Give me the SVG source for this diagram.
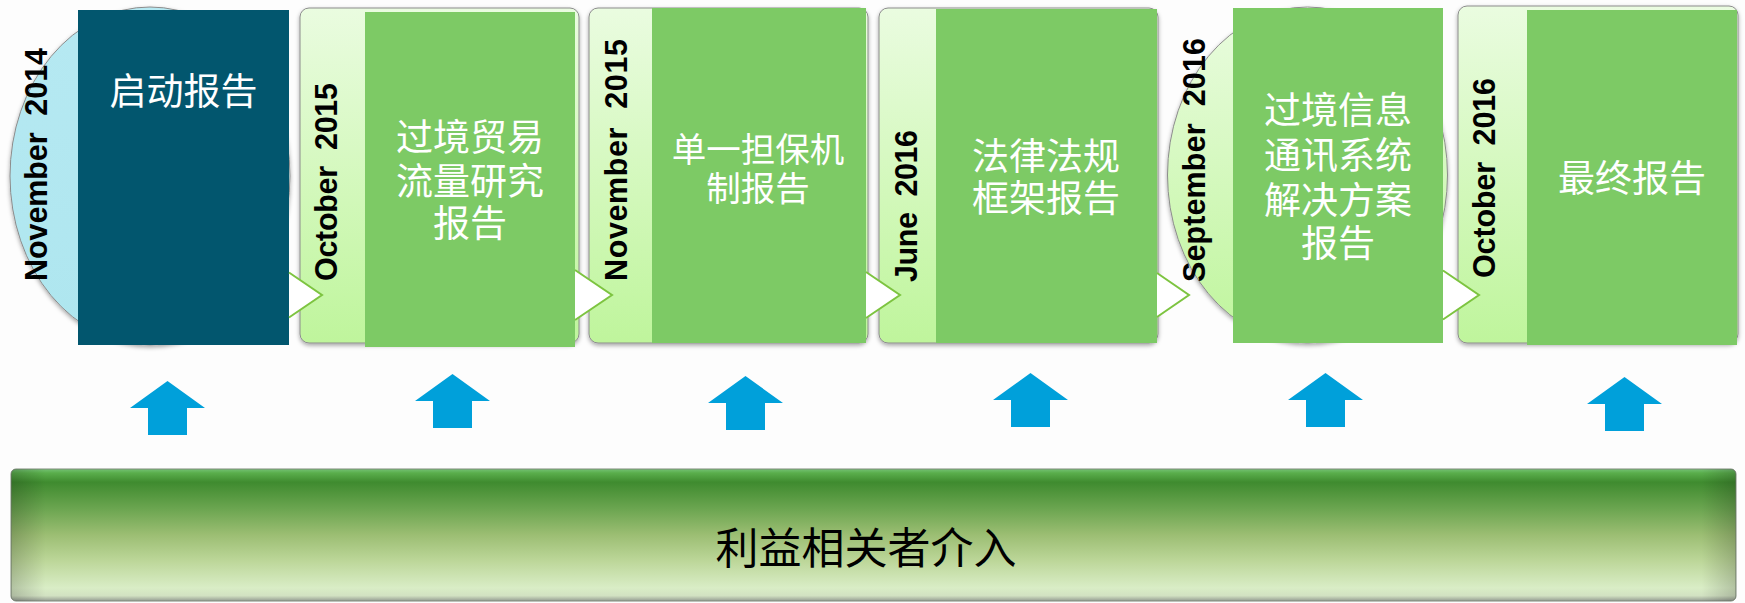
<svg xmlns="http://www.w3.org/2000/svg" width="1745" height="603" viewBox="0 0 1745 603">
  <defs>
    <linearGradient id="cardGrad" x1="0" y1="0" x2="0" y2="1">
      <stop offset="0" stop-color="#EAFCE0"/>
      <stop offset="1" stop-color="#BFF59C"/>
    </linearGradient>
    <linearGradient id="blueGrad" x1="0" y1="0" x2="0" y2="1">
      <stop offset="0" stop-color="#B6E9F2"/>
      <stop offset="1" stop-color="#AEE6EF"/>
    </linearGradient>
    <linearGradient id="barGrad" x1="0" y1="0" x2="0" y2="1">
      <stop offset="0" stop-color="#74C274"/>
      <stop offset="0.03" stop-color="#5AAE4C"/>
      <stop offset="0.1" stop-color="#3F8B2F"/>
      <stop offset="0.3" stop-color="#6BA550"/>
      <stop offset="0.5" stop-color="#9CBE73"/>
      <stop offset="0.7" stop-color="#BDD79A"/>
      <stop offset="0.9" stop-color="#D9EDC6"/>
      <stop offset="0.96" stop-color="#D2E2C2"/>
      <stop offset="1" stop-color="#959C92"/>
    </linearGradient>
    <linearGradient id="barSide" x1="0" y1="0" x2="1" y2="0">
      <stop offset="0" stop-color="#000" stop-opacity="0.18"/>
      <stop offset="0.02" stop-color="#000" stop-opacity="0"/>
      <stop offset="0.98" stop-color="#000" stop-opacity="0"/>
      <stop offset="1" stop-color="#000" stop-opacity="0.18"/>
    </linearGradient>
    <filter id="shadow" x="-10%" y="-10%" width="120%" height="120%">
      <feDropShadow dx="0" dy="2" stdDeviation="2" flood-color="#000" flood-opacity="0.35"/>
    </filter>
  </defs>
  <style>
    .bg { fill: url(#cardGrad); stroke: #8C8C8C; stroke-width: 1; filter: url(#shadow); }
    .inner { fill: #7DCA65; }
    .date { font-family: "Liberation Sans", Arial, sans-serif; font-weight: bold; font-size: 30.5px; fill: #000; }
    .lbl { font-family: "Noto Sans CJK SC", "Noto Sans", sans-serif; font-size: 37px; fill: #FFFFFF; text-anchor: middle; }
    .chev { fill: #FFFFFF; stroke: #7DC440; stroke-width: 2; stroke-linejoin: miter; }
    .up { fill: #00A0DA; }
  </style>
  <rect x="0" y="0" width="1745" height="603" fill="#FDFDFD"/>

  <g id="node1">
    <ellipse cx="150" cy="176" rx="140" ry="169" fill="url(#blueGrad)" stroke="#8C8C8C" stroke-width="1" filter="url(#shadow)"/>
    <rect x="78" y="10" width="211" height="335" fill="#02566E"/>
    <text class="lbl" x="183.5" y="105">启动报告</text>
    <text class="date" xml:space="preserve" transform="translate(47,281) rotate(-90)" textLength="233">November  2014</text>
  </g>

  <g id="node2">
    <rect class="bg" x="300" y="8" width="279" height="335" rx="9"/>
    <rect class="inner" x="365" y="12" width="210" height="335"/>
    <text class="lbl" x="470" y="151">过境贸易<tspan x="470" dy="44">流量研究</tspan><tspan x="470" dy="42">报告</tspan></text>
    <text class="date" xml:space="preserve" transform="translate(337,281) rotate(-90)" textLength="198">October  2015</text>
  </g>

  <g id="node3">
    <rect class="bg" x="589" y="8" width="279" height="335" rx="9"/>
    <rect class="inner" x="652" y="8" width="214" height="335"/>
    <text class="lbl" x="758" y="162" style="font-size:34.5px">单一担保机<tspan x="758" dy="39">制报告</tspan></text>
    <text class="date" xml:space="preserve" transform="translate(627,281) rotate(-90)" textLength="242">November  2015</text>
  </g>

  <g id="node4">
    <rect class="bg" x="879" y="8" width="279" height="335" rx="9"/>
    <rect class="inner" x="936" y="9" width="221" height="334"/>
    <text class="lbl" x="1046" y="170">法律法规<tspan x="1046" dy="42">框架报告</tspan></text>
    <text class="date" xml:space="preserve" transform="translate(917,282) rotate(-90)" textLength="152">June  2016</text>
  </g>

  <g id="node5">
    <ellipse cx="1307.5" cy="175" rx="140" ry="168" fill="url(#cardGrad)" stroke="#8C8C8C" stroke-width="1" filter="url(#shadow)"/>
    <rect class="inner" x="1233" y="8" width="210" height="335"/>
    <text class="lbl" x="1338" y="124">过境信息<tspan x="1338" dy="45">通讯系统</tspan><tspan x="1338" dy="45">解决方案</tspan><tspan x="1338" dy="43">报告</tspan></text>
    <text class="date" xml:space="preserve" transform="translate(1205,282) rotate(-90)" textLength="244">September  2016</text>
  </g>

  <g id="node6">
    <rect class="bg" x="1458" y="6" width="280" height="337" rx="9"/>
    <rect class="inner" x="1527" y="10" width="210" height="335"/>
    <text class="lbl" x="1632" y="192">最终报告</text>
    <text class="date" xml:space="preserve" transform="translate(1495,278) rotate(-90)" textLength="200">October  2016</text>
  </g>

  <g id="node7">
    <rect x="11" y="469" width="1725" height="132" rx="5" fill="url(#barGrad)" stroke="#7E8A7A" stroke-width="1"/>
    <rect x="11" y="469" width="1725" height="132" rx="5" fill="url(#barSide)"/>
    <text x="866" y="564" font-family="Noto Sans CJK SC, Noto Sans, sans-serif" font-size="43" fill="#000" text-anchor="middle">利益相关者介入</text>
  </g>

  <g id="connectors">
    <path class="chev" d="M289,272.5 L322,295 L289,317.5"/>
    <path class="chev" d="M575,270 L612,295 L575,320"/>
    <path class="chev" d="M866,272 L900,295 L866,318"/>
    <path class="chev" d="M1157,273 L1189,295 L1157,317"/>
    <path class="chev" d="M1443,270.5 L1479,295 L1443,319.5"/>

    <polygon class="up" points="167.5,381 205,408 187,408 187,435 148,435 148,408 130,408"/>
    <polygon class="up" points="452.5,374 490,401 472,401 472,428 433,428 433,401 415,401"/>
    <polygon class="up" points="745.5,376 783,403 765,403 765,430 726,430 726,403 708,403"/>
    <polygon class="up" points="1030.5,373 1068,400 1050,400 1050,427 1011,427 1011,400 993,400"/>
    <polygon class="up" points="1325.5,373 1363,400 1345,400 1345,427 1306,427 1306,400 1288,400"/>
    <polygon class="up" points="1624.5,377 1662,404 1644,404 1644,431 1605,431 1605,404 1587,404"/>
  </g>
</svg>
